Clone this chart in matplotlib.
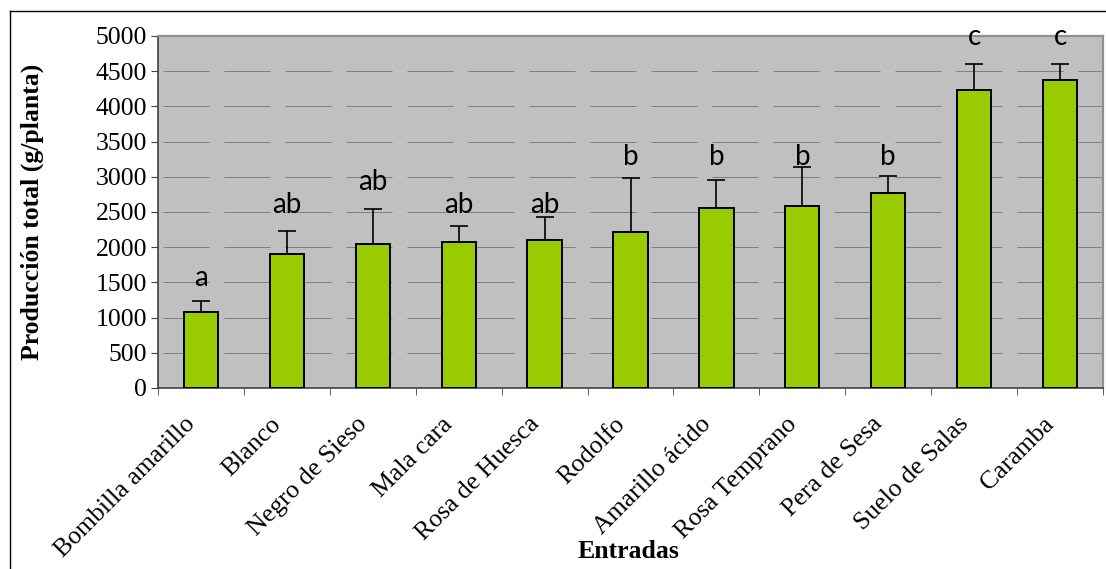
import matplotlib
matplotlib.use("Agg")
import matplotlib.pyplot as plt
from matplotlib.lines import Line2D
from matplotlib.transforms import ScaledTranslation
import numpy as np

categories = ["Bombilla amarillo", "Blanco", "Negro de Sieso", "Mala cara",
              "Rosa de Huesca", "Rodolfo", "Amarillo ácido", "Rosa Temprano",
              "Pera de Sesa", "Suelo de Salas", "Caramba"]
values = [1075, 1910, 2040, 2070, 2100, 2220, 2560, 2590, 2770, 4235, 4370]
errors = [160, 320, 500, 235, 335, 760, 390, 550, 245, 370, 235]
letters = ["a", "ab", "ab", "ab", "ab", "b", "b", "b", "b", "c", "c"]
letter_y = [1560, 2600, 2930, 2600, 2600, 3280, 3280, 3280, 3280, 4990, 4990]
yticks = [0, 500, 1000, 1500, 2000, 2500, 3000, 3500, 4000, 4500, 5000]

W, H = 1106, 569
fig = plt.figure(figsize=(W / 100, H / 100), dpi=100)
fig.patch.set_facecolor("white")

L, R, T, B = 158, 1103, 36, 388
ax = fig.add_axes([L / W, 1 - B / H, (R - L) / W, (B - T) / H])
ax.set_facecolor("#C0C0C0")

x = np.arange(len(categories))
ax.bar(x, values, width=0.4, color="#99CC00", edgecolor="black",
       linewidth=1.4, zorder=3)
ax.errorbar(x, values, yerr=[np.zeros(len(values)), errors], fmt="none",
            ecolor="black", elinewidth=1.2, capsize=6.5, capthick=1.2, zorder=4)

for xi, lt, ly in zip(x, letters, letter_y):
    ax.text(xi, ly, lt, ha="center", va="center", fontsize=20,
            family="Lato", color="black", zorder=5)

ax.set_xlim(-0.5, len(categories) - 0.5)
ax.set_ylim(0, 5000)
ax.set_yticks(yticks)
ax.set_yticklabels([str(v) for v in yticks], family="Liberation Serif", fontsize=18.5)

ax.set_xticks(x)
ax.set_xticklabels(categories, family="Liberation Serif", fontsize=18.5,
                   rotation=45, ha="right", va="center", rotation_mode="anchor")
ax.set_xticks(np.arange(len(categories) + 1) - 0.5, minor=True)
ax.tick_params(axis="x", which="major", length=0, pad=15)
ax.tick_params(axis="x", which="minor", length=5, direction="out", color="#404040")
ax.tick_params(axis="y", length=5, direction="out", color="#404040", pad=3)

shift = ScaledTranslation(-9 / 100, -12 / 100, fig.dpi_scale_trans)
for lbl in ax.get_xticklabels():
    lbl.set_transform(lbl.get_transform() + shift)

ax.grid(axis="y", color="#808080", linewidth=0.72, linestyle=(56, (46, 15)), zorder=1)
ax.set_axisbelow(True)

for s in ["left", "bottom"]:
    ax.spines[s].set_color("#404040")
    ax.spines[s].set_linewidth(1.2)
for s in ["top", "right"]:
    ax.spines[s].set_color("#909090")
    ax.spines[s].set_linewidth(1.6)

fig.text(32 / W, 1 - 212 / H, "Producción total (g/planta)", rotation=90,
         ha="center", va="center", family="Liberation Serif", fontsize=18.5,
         fontweight="bold")
fig.text(629 / W, 1 - 551 / H, "Entradas", ha="center", va="center",
         family="Liberation Serif", fontsize=18.5, fontweight="bold")

fig.add_artist(Line2D([9.5 / W, 9.5 / W], [1 - 10.5 / H, 0], transform=fig.transFigure,
                      color="black", linewidth=1.0))
fig.add_artist(Line2D([9.5 / W, 1], [1 - 10.5 / H, 1 - 10.5 / H], transform=fig.transFigure,
                      color="black", linewidth=1.0))

fig.savefig("out.png", dpi=100)
